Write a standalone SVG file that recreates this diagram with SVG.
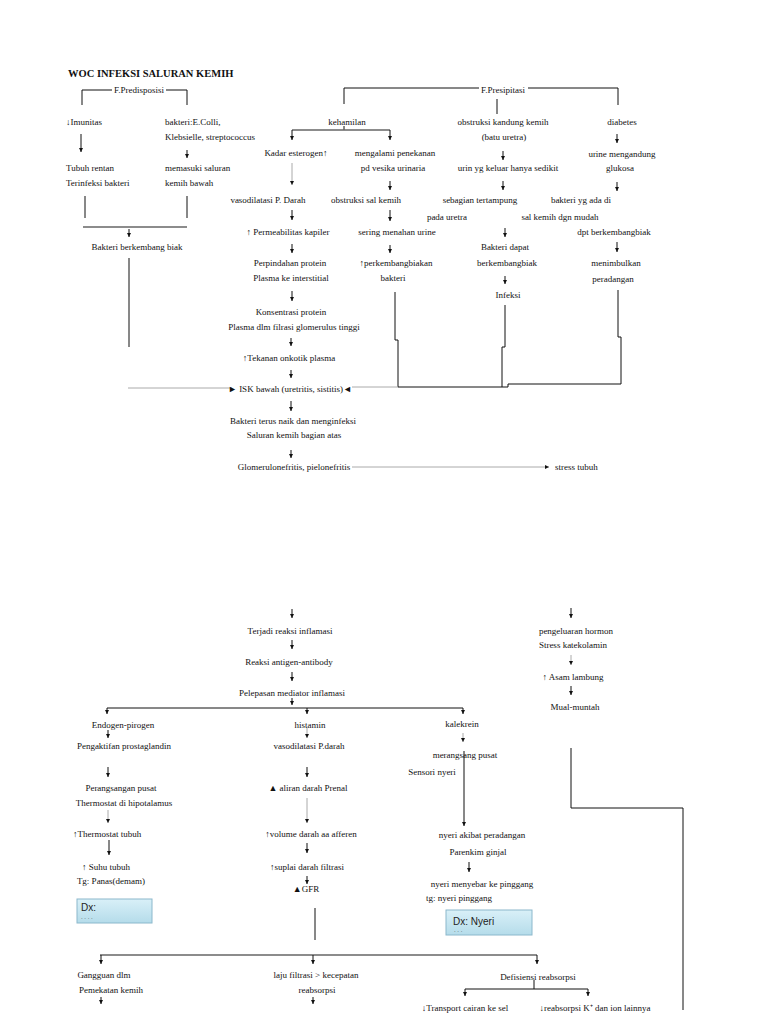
<svg xmlns="http://www.w3.org/2000/svg" width="768" height="1024" viewBox="0 0 768 1024">
<style>
.t{font-family:"Liberation Serif","Times New Roman",serif;font-size:9px;fill:#111;text-anchor:middle}
.s{text-anchor:start}
.ttl{font-family:"Liberation Serif","Times New Roman",serif;font-size:10.5px;font-weight:bold;fill:#111}
.dx{font-family:"Liberation Sans",Arial,sans-serif;font-size:10px;fill:#222}
.dd{font-family:"Liberation Sans",Arial,sans-serif;font-size:6px;fill:#333}
.k{stroke:#111;stroke-width:1;fill:none}
.g{stroke:#aaa;stroke-width:1;fill:none}
.gd{stroke:#666;stroke-width:1.5;fill:none}
.a{marker-end:url(#ah)}
.box{fill:url(#bg);stroke:#8bb8cc;stroke-width:1}
</style>
<defs>
<marker id="ah" viewBox="0 0 6 6" refX="6" refY="3" markerWidth="4.5" markerHeight="4.5" markerUnits="userSpaceOnUse" orient="auto"><path d="M0,0L6,3L0,6z" fill="#111"/></marker>
<linearGradient id="bg" x1="0" y1="0" x2="0" y2="1"><stop offset="0" stop-color="#d9f0f8"/><stop offset="1" stop-color="#b5dcea"/></linearGradient>
</defs>
<rect width="768" height="1024" fill="#fff"/>
<text class="ttl" x="68" y="77">WOC INFEKSI SALURAN KEMIH</text>

<g id="connectors">
<polyline class="k" points="82,105 82,90 112,90"/>
<polyline class="k" points="166,90 187,90 187,105"/>
<line class="k a" x1="81" y1="134" x2="81" y2="152"/>
<line class="k a" x1="187" y1="150" x2="187" y2="158"/>
<line class="k" x1="85" y1="196" x2="85" y2="218"/>
<line class="k" x1="187" y1="196" x2="187" y2="218"/>
<line class="gd" x1="83" y1="227" x2="187" y2="227"/>
<line class="k a" x1="129" y1="229" x2="129" y2="237"/>
<line class="k" stroke="#444" x1="129" y1="258" x2="129" y2="347"/>
<line class="g" x1="128" y1="388" x2="232" y2="388"/>

<polyline class="k" points="344,104 344,88 479,88"/>
<polyline class="k" points="528,88 618,88 618,105"/>
<line class="k" x1="497" y1="99" x2="497" y2="114"/>
<line class="k" x1="344" y1="126" x2="344" y2="130"/>
<line class="gd" x1="292" y1="130" x2="390" y2="130"/>
<line class="k a" x1="292" y1="130" x2="292" y2="140"/>
<line class="k a" x1="390" y1="130" x2="390" y2="140"/>
<line class="g a" x1="292" y1="163" x2="292" y2="185"/>
<line class="k a" x1="390" y1="181" x2="390" y2="190"/>
<line class="k a" x1="292" y1="210" x2="292" y2="220"/>
<line class="k a" x1="390" y1="210" x2="390" y2="221"/>
<line class="k a" x1="292" y1="244" x2="292" y2="253"/>
<line class="k a" x1="390" y1="245" x2="390" y2="253"/>
<line class="k a" x1="292" y1="291" x2="292" y2="301"/>
<line class="k a" x1="291" y1="338" x2="291" y2="346"/>
<line class="k a" x1="291" y1="370" x2="291" y2="378"/>
<line class="k a" x1="291" y1="401" x2="291" y2="411"/>
<line class="k a" x1="291" y1="450" x2="291" y2="458"/>
<line class="g a" x1="352" y1="467" x2="549" y2="467"/>
<polyline class="k" points="395,292 395,340 398,340 398,387"/>
<line class="g" x1="352" y1="387" x2="398" y2="387"/>
<line class="k" x1="398" y1="387" x2="502" y2="387"/>
<polyline class="k" points="505,305 505,347 502,347 502,387"/>
<polyline class="k" points="618,290 618,337 621,337 621,384 508,384 508,387 502,387"/>

<line class="k a" x1="503" y1="151" x2="503" y2="160"/>
<line class="k a" x1="617" y1="134" x2="617" y2="143"/>
<line class="k a" x1="503" y1="181" x2="503" y2="190"/>
<line class="k a" x1="617" y1="182" x2="617" y2="191"/>
<line class="k a" x1="505" y1="228" x2="505" y2="237"/>
<line class="k a" x1="617" y1="242" x2="617" y2="252"/>
<line class="k a" x1="505" y1="276" x2="505" y2="284"/>

<line class="k a" x1="292" y1="609" x2="292" y2="618"/>
<line class="k a" x1="292" y1="640" x2="292" y2="649"/>
<line class="k a" x1="292" y1="672" x2="292" y2="681"/>
<line class="k a" x1="292" y1="698" x2="292" y2="705"/>
<line class="k" x1="107" y1="708" x2="463" y2="708"/>
<line class="k a" x1="107" y1="708" x2="107" y2="714"/>
<line class="k a" x1="307" y1="708" x2="307" y2="714"/>
<line class="k a" x1="463" y1="708" x2="463" y2="714"/>
<line class="k a" x1="108" y1="730" x2="108" y2="738"/>
<line class="g a" x1="307" y1="728" x2="307" y2="738"/>
<line class="g a" x1="463" y1="733" x2="463" y2="742"/>
<line class="k a" x1="464" y1="751" x2="464" y2="826"/>
<line class="k a" x1="108" y1="767" x2="108" y2="777"/>
<line class="k a" x1="307" y1="767" x2="307" y2="777"/>
<line class="g a" x1="108" y1="810" x2="108" y2="823"/>
<line class="g a" x1="307" y1="798" x2="307" y2="823"/>
<line class="k a" x1="109" y1="840" x2="109" y2="855"/>
<line class="k a" x1="307" y1="843" x2="307" y2="853"/>
<line class="k a" x1="307" y1="876" x2="307" y2="884"/>
<line class="k a" x1="469" y1="862" x2="469" y2="872"/>
<line class="k" x1="315" y1="908" x2="315" y2="940"/>
<line class="k a" x1="571" y1="608" x2="571" y2="618"/>
<line class="g a" x1="571" y1="655" x2="571" y2="665"/>
<line class="k a" x1="571" y1="686" x2="571" y2="695"/>
<polyline class="k" points="571,748 571,808 683,808 683,1010"/>
<line class="gd" x1="100" y1="955" x2="537" y2="955"/>
<line class="k a" x1="101" y1="955" x2="101" y2="964"/>
<line class="k a" x1="313" y1="955" x2="313" y2="964"/>
<line class="k a" x1="537" y1="955" x2="537" y2="964"/>
<line class="k a" x1="101" y1="997" x2="101" y2="1004"/>
<line class="k a" x1="313" y1="997" x2="313" y2="1004"/>
<line class="k" x1="534" y1="980" x2="534" y2="989"/>
<line class="k" x1="465" y1="989" x2="588" y2="989"/>
<line class="k a" x1="465" y1="989" x2="465" y2="996"/>
<line class="k a" x1="588" y1="989" x2="588" y2="996"/>
</g>

<g id="n-predisposisi"><text class="t" x="139" y="93">F.Predisposisi</text></g>
<g id="n-imunitas"><text class="t s" x="66" y="125">↓Imunitas</text></g>
<g id="n-bakteri-ecoli"><text class="t s" x="165" y="125">bakteri:E.Colli,</text><text class="t s" x="165" y="140">Klebsielle, streptococcus</text></g>
<g id="n-tubuh-rentan"><text class="t s" x="66" y="171">Tubuh rentan</text><text class="t s" x="66" y="186">Terinfeksi bakteri</text></g>
<g id="n-memasuki"><text class="t s" x="165" y="171">memasuki saluran</text><text class="t s" x="165" y="186">kemih bawah</text></g>
<g id="n-bakteri-biak"><text class="t" x="137" y="250">Bakteri berkembang biak</text></g>

<g id="n-presipitasi"><text class="t" x="503" y="93">F.Presipitasi</text></g>
<g id="n-kehamilan"><text class="t" x="347" y="125">kehamilan</text></g>
<g id="n-esterogen"><text class="t" x="296" y="156">Kadar esterogen↑</text></g>
<g id="n-penekanan"><text class="t" x="395" y="156">mengalami penekanan</text><text class="t" x="393" y="171">pd vesika urinaria</text></g>
<g id="n-vasodilatasi1"><text class="t" x="268" y="203">vasodilatasi P. Darah</text></g>
<g id="n-obstruksi-sal"><text class="t" x="366" y="203">obstruksi sal kemih</text></g>
<g id="n-permeabilitas"><text class="t" x="288" y="235">↑ Permeabilitas kapiler</text></g>
<g id="n-menahan"><text class="t" x="397" y="235">sering menahan urine</text></g>
<g id="n-perpindahan"><text class="t" x="290" y="266">Perpindahan protein</text><text class="t" x="291" y="281">Plasma ke interstitial</text></g>
<g id="n-perkembangbiakan"><text class="t" x="396" y="266">↑perkembangbiakan</text><text class="t" x="393" y="281">bakteri</text></g>
<g id="n-konsentrasi"><text class="t" x="291" y="315">Konsentrasi protein</text><text class="t" x="294" y="330">Plasma dlm filrasi glomerulus tinggi</text></g>
<g id="n-onkotik"><text class="t" x="289" y="361">↑Tekanan onkotik plasma</text></g>
<g id="n-isk"><text class="t" x="290" y="392">► ISK bawah (uretritis, sistitis)◄</text></g>
<g id="n-naik"><text class="t" x="293" y="424">Bakteri terus naik dan menginfeksi</text><text class="t" x="294" y="438">Saluran kemih bagian atas</text></g>
<g id="n-glomerulo"><text class="t" x="294" y="470">Glomerulonefritis, pielonefritis</text></g>
<g id="n-stress"><text class="t s" x="555" y="470">stress tubuh</text></g>

<g id="n-obstruksi-kandung"><text class="t" x="503" y="125">obstruksi kandung kemih</text><text class="t" x="504" y="140">(batu uretra)</text></g>
<g id="n-diabetes"><text class="t" x="622" y="125">diabetes</text></g>
<g id="n-urin-sedikit"><text class="t" x="508" y="171">urin yg keluar hanya sedikit</text></g>
<g id="n-glukosa"><text class="t" x="622" y="157">urine mengandung</text><text class="t" x="620" y="171">glukosa</text></g>
<g id="n-tertampung"><text class="t" x="480" y="203">sebagian tertampung</text><text class="t" x="447" y="220">pada uretra</text></g>
<g id="n-bakteri-ada"><text class="t" x="581" y="203">bakteri yg ada di</text><text class="t" x="560" y="220">sal kemih dgn mudah</text><text class="t" x="614" y="235">dpt berkembangbiak</text></g>
<g id="n-bakteri-dapat"><text class="t" x="505" y="250">Bakteri dapat</text><text class="t" x="507" y="266">berkembangbiak</text></g>
<g id="n-peradangan"><text class="t" x="616" y="266">menimbulkan</text><text class="t" x="613" y="282">peradangan</text></g>
<g id="n-infeksi"><text class="t" x="508" y="298">Infeksi</text></g>

<g id="n-inflamasi"><text class="t" x="290" y="634">Terjadi reaksi inflamasi</text></g>
<g id="n-antigen"><text class="t" x="289" y="665">Reaksi antigen-antibody</text></g>
<g id="n-mediator"><text class="t" x="292" y="696">Pelepasan mediator inflamasi</text></g>
<g id="n-endogen"><text class="t" x="123" y="728">Endogen-pirogen</text></g>
<g id="n-histamin"><text class="t" x="310" y="728">histamin</text></g>
<g id="n-kalekrein"><text class="t" x="462" y="727">kalekrein</text></g>
<g id="n-prostaglandin"><text class="t" x="124" y="749">Pengaktifan prostaglandin</text></g>
<g id="n-vasodilatasi2"><text class="t" x="309" y="749">vasodilatasi P.darah</text></g>
<g id="n-merangsang"><text class="t" x="465" y="758">merangsang pusat</text><text class="t" x="432" y="775">Sensori nyeri</text></g>
<g id="n-perangsangan"><text class="t" x="121" y="791">Perangsangan pusat</text><text class="t" x="124" y="806">Thermostat di hipotalamus</text></g>
<g id="n-aliran"><text class="t" x="308" y="791">▲ aliran darah Prenal</text></g>
<g id="n-thermostat"><text class="t s" x="73" y="837">↑Thermostat tubuh</text></g>
<g id="n-volume"><text class="t" x="311" y="837">↑volume darah aa afferen</text></g>
<g id="n-nyeri-akibat"><text class="t" x="482" y="838">nyeri akibat peradangan</text><text class="t" x="478" y="855">Parenkim ginjal</text></g>
<g id="n-suhu"><text class="t" x="106" y="870">↑ Suhu tubuh</text><text class="t" x="111" y="884">Tg: Panas(demam)</text></g>
<g id="n-suplai"><text class="t" x="307" y="870">↑suplai darah filtrasi</text></g>
<g id="n-nyeri-menyebar"><text class="t" x="482" y="887">nyeri menyebar ke pinggang</text><text class="t" x="459" y="901">tg: nyeri pinggang</text></g>
<g id="n-gfr"><text class="t" x="306" y="892">▲GFR</text></g>
<g id="n-dx1"><rect class="box" x="77" y="899" width="75" height="24"/><text class="dx" x="81" y="911">Dx:</text><text class="dd" x="81" y="919">. .      .        .</text></g>
<g id="n-dx2"><rect class="box" x="446" y="910" width="86" height="25"/><text class="dx" x="453" y="925">Dx: Nyeri</text><text class="dd" x="454" y="932">. .   .</text></g>

<g id="n-hormon"><text class="t" x="576" y="634">pengeluaran hormon</text><text class="t" x="573" y="648">Stress katekolamin</text></g>
<g id="n-asam"><text class="t" x="573" y="680">↑ Asam lambung</text></g>
<g id="n-mual"><text class="t" x="575" y="710">Mual-muntah</text></g>

<g id="n-gangguan"><text class="t" x="104" y="978">Gangguan dlm</text><text class="t" x="111" y="993">Pemekatan kemih</text></g>
<g id="n-laju"><text class="t" x="316" y="978">laju filtrasi &gt; kecepatan</text><text class="t" x="317" y="993">reabsorpsi</text></g>
<g id="n-defisiensi"><text class="t" x="538" y="980">Defisiensi reabsorpsi</text></g>
<g id="n-transport"><text class="t" x="465" y="1011">↓Transport cairan ke sel</text></g>
<g id="n-reabsorpsi-k"><text class="t" x="595" y="1011">↓reabsorpsi K⁺ dan ion lainnya</text></g>
</svg>
